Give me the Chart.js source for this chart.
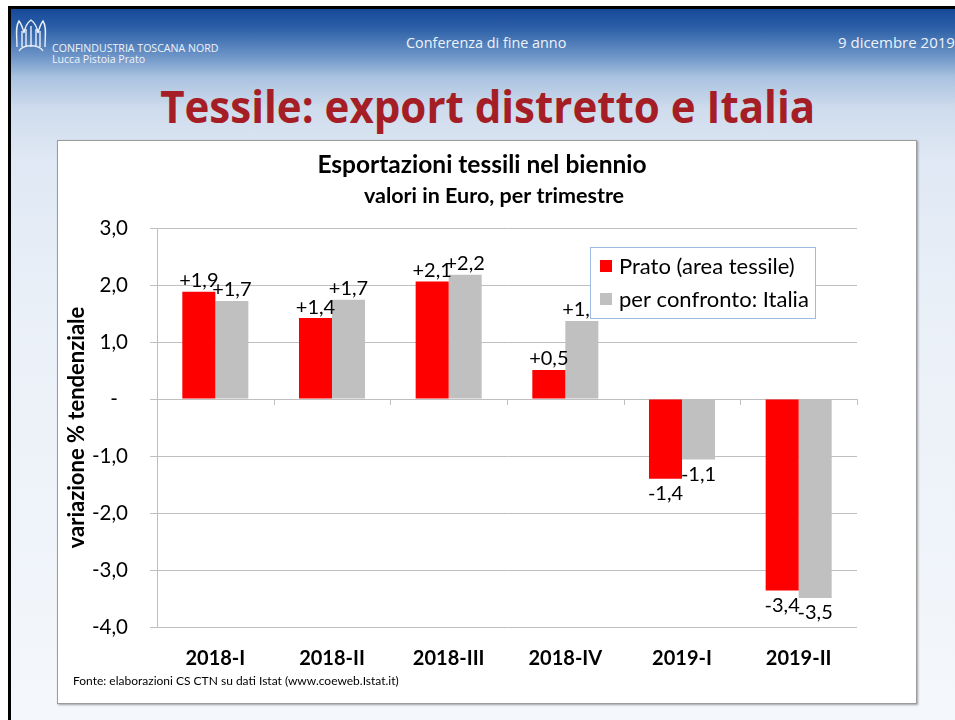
<!DOCTYPE html>
<html>
<head>
<meta charset="utf-8">
<script src="https://cdn.jsdelivr.net/npm/chart.js@4.4.1/dist/chart.umd.min.js"></script>
<style>
  html, body { margin:0; padding:0; }
  body { width:955px; height:720px; position:relative; overflow:hidden; background:#fff; font-family:"Open Sans", sans-serif; }
  #slide { position:absolute; left:11px; top:9px; width:944px; height:711px;
    background: linear-gradient(to bottom, #17499a 0px, #2a5ea6 18px, #6f96c8 48px, #a9c2e0 68px, #cfdced 100px, #dfe8f4 150px, #eaf0f8 300px, #f4f7fb 711px); }
  #topbar { position:absolute; left:8px; top:6px; width:947px; height:3px; background:#000; }
  #leftbar { position:absolute; left:8px; top:6px; width:3px; height:714px; background:#000; }
  .hdr { position:absolute; color:#eef3fa; font-family:"Open Sans", sans-serif; white-space:nowrap; }
  #conf { left:406px; top:33px; font-size:14.4px; }
  #date { left:838px; top:32px; font-size:15px; }
  #org1 { left:52px; top:41px; font-size:10.6px; }
  #org2 { left:52px; top:52px; font-size:10.6px; }
  #title { position:absolute; left:0; top:80px; width:975px; text-align:center; color:#a51e25;
    font-family:"Open Sans", sans-serif; font-weight:bold; font-size:44px; line-height:52px; white-space:nowrap; }
  #title span { display:inline-block; transform-origin:center center; }
  #box { position:absolute; left:57px; top:140px; width:858px; height:562px; background:#fff;
    border:1px solid #9c9c9c; box-shadow:1px 1px 2px rgba(0,0,0,0.35); }
  #c { position:absolute; left:0; top:0; }
  #fonte { position:absolute; left:15px; top:532px; font-family:Lato, sans-serif; font-size:12px; color:#000; white-space:nowrap; }
  #logo { position:absolute; left:13px; top:17px; }
</style>
</head>
<body>
<div id="slide"></div>
<div id="topbar"></div>
<div id="leftbar"></div>
<svg id="logo" width="36" height="36" viewBox="0 0 36 36" fill="none" stroke="#e8eef8" stroke-width="1.4">
  <path d="M4 30 C4 18 2 10 6 4 C9 8 10 12 11 16 C12 10 14 6 18 3 C22 6 24 10 25 16 C26 12 27 8 30 4 C34 10 32 18 32 30"/>
  <path d="M9 30 L9 14 M13 30 L13 12 M18 30 L18 9 M23 30 L23 12 M27 30 L27 14"/>
  <path d="M6 34 C10 27 26 27 30 34"/>
</svg>
<div class="hdr" id="org1">CONFINDUSTRIA TOSCANA NORD</div>
<div class="hdr" id="org2">Lucca Pistoia Prato</div>
<div class="hdr" id="conf">Conferenza di fine anno</div>
<div class="hdr" id="date">9 dicembre 2019</div>
<div id="title"><span>Tessile: export distretto e Italia</span></div>
<div id="box">
  <canvas id="c" width="858" height="562"></canvas>
  <div id="fonte">Fonte: elaborazioni CS CTN su dati Istat (www.coeweb.Istat.it)</div>
</div>
<script>
// ---- data ----
const categories = ['2018-I', '2018-II', '2018-III', '2018-IV', '2019-I', '2019-II'];
const seriesNames = ['Prato (area tessile)', 'per confronto: Italia'];
const pratoValues = [1.88, 1.42, 2.06, 0.51, -1.40, -3.36];
const italiaValues = [1.72, 1.74, 2.18, 1.37, -1.06, -3.49];
const yMin = -4.0;
const yMax = 3.0;
const yStep = 1.0;
const chartTitle = 'Esportazioni tessili nel biennio';
const chartSubtitle = 'valori in Euro, per trimestre';
const yAxisTitle = 'variazione % tendenziale';

const RED = '#ff0000';
const GREY = '#c0c0c0';
const GRID = '#bfbfbf';

function fmtTick(v) {
  if (Math.abs(v) < 1e-9) return '-\u2002';
  return v.toFixed(1).replace('.', ',');
}
function fmtLabel(v) {
  const s = Math.abs(v).toFixed(1).replace('.', ',');
  return (v >= 0 ? '+' : '-') + s;
}

const titlesPlugin = {
  id: 'titles',
  afterDraw(chart) {
    const ctx = chart.ctx;
    ctx.save();
    ctx.fillStyle = '#000';
    ctx.textAlign = 'center';
    ctx.textBaseline = 'middle';
    ctx.font = 'bold 24.5px Lato';
    ctx.fillText(chartTitle, 424, 24);
    ctx.font = 'bold 21.5px Lato';
    ctx.fillText(chartSubtitle, 436, 55);
    ctx.restore();
  }
};

const zeroTicksPlugin = {
  id: 'zeroTicks',
  beforeDatasetsDraw(chart) {
    const ctx = chart.ctx, xs = chart.scales.x, ys = chart.scales.y;
    const y0 = ys.getPixelForValue(0);
    ctx.save();
    ctx.strokeStyle = GRID;
    ctx.lineWidth = 1;
    for (let i = 0; i <= categories.length; i++) {
      const x = Math.round(xs.getPixelForValue(i - 0.5)) + 0.5;
      ctx.beginPath();
      ctx.moveTo(x, y0);
      ctx.lineTo(x, y0 + 6);
      ctx.stroke();
    }
    ctx.restore();
  }
};

const valueLabelsPlugin = {
  id: 'valueLabels',
  afterDatasetsDraw(chart) {
    const ctx = chart.ctx;
    ctx.save();
    ctx.font = '20px Lato';
    ctx.fillStyle = '#000';
    ctx.textAlign = 'center';
    chart.data.datasets.forEach((ds, di) => {
      const meta = chart.getDatasetMeta(di);
      meta.data.forEach((el, i) => {
        const v = ds.data[i];
        const txt = fmtLabel(v);
        if (v >= 0) {
          ctx.textBaseline = 'bottom';
          ctx.fillText(txt, el.x, el.y - 1);
        } else {
          ctx.textBaseline = 'top';
          ctx.fillText(txt, el.x, el.y + 5);
        }
      });
    });
    ctx.restore();
  }
};

const boxLegendPlugin = {
  id: 'boxLegend',
  afterDraw(chart) {
    const ctx = chart.ctx, a = chart.chartArea;
    const bx = a.right - 267, by = a.top + 19, bw = 225, bh = 71;
    ctx.save();
    ctx.fillStyle = '#fff';
    ctx.fillRect(bx, by, bw, bh);
    ctx.strokeStyle = '#9dbbe3';
    ctx.lineWidth = 1;
    ctx.strokeRect(bx + 0.5, by + 0.5, bw, bh);
    ctx.font = '22px Lato';
    ctx.textAlign = 'left';
    ctx.textBaseline = 'middle';
    chart.data.datasets.forEach((ds, di) => {
      const cy = by + 19 + di * 33;
      ctx.fillStyle = ds.backgroundColor;
      ctx.fillRect(bx + 10, cy - 6, 12, 12);
      ctx.fillStyle = '#000';
      ctx.fillText(ds.label, bx + 29, cy + 1);
    });
    ctx.restore();
  }
};

function draw() {
  const span = document.querySelector('#title span');
  const w = span.getBoundingClientRect().width;
  span.style.transform = 'scaleX(' + (655 / w) + ')';

  new Chart(document.getElementById('c'), {
    type: 'bar',
    data: {
      labels: categories,
      datasets: [
        { label: seriesNames[0], data: pratoValues, backgroundColor: RED, borderWidth: 0 },
        { label: seriesNames[1], data: italiaValues, backgroundColor: GREY, borderWidth: 0 }
      ]
    },
    options: {
      responsive: false,
      animation: false,
      devicePixelRatio: 1,
      categoryPercentage: 0.566,
      barPercentage: 1.0,
      layout: { padding: { left: 0, right: 59, top: 87, bottom: 0 } },
      plugins: {
        legend: { display: false },
        tooltip: { enabled: false },
        title: { display: false },
        subtitle: { display: false }
      },
      scales: {
        x: {
          grid: { display: false, drawTicks: false },
          border: { display: false },
          ticks: { color: '#000', font: { family: 'Lato', size: 20, weight: 'bold' }, padding: 20, maxRotation: 0 },
          afterFit(s) { s.height = 76; }
        },
        y: {
          min: yMin, max: yMax,
          grid: { color: GRID, lineWidth: 1, drawTicks: true, tickLength: 7, tickColor: GRID },
          border: { display: true, color: GRID, width: 1 },
          ticks: { stepSize: yStep, color: '#000', font: { family: 'Lato', size: 20.5 }, padding: 22,
                   callback: (v) => fmtTick(v) },
          title: { display: true, text: yAxisTitle, color: '#000',
                   font: { family: 'Lato', size: 22, weight: 'bold', lineHeight: 1.2 },
                   padding: { top: 6, bottom: 0 } },
          afterFit(s) { s.width = 99; }
        }
      }
    },
    plugins: [zeroTicksPlugin, valueLabelsPlugin, boxLegendPlugin, titlesPlugin]
  });
}

Promise.all([
  document.fonts.load('19px Lato'),
  document.fonts.load('bold 19px Lato'),
  document.fonts.load('bold 44px "Open Sans"'),
  document.fonts.load('14px "Open Sans"')
]).then(draw, draw);
</script>
</body>
</html>
